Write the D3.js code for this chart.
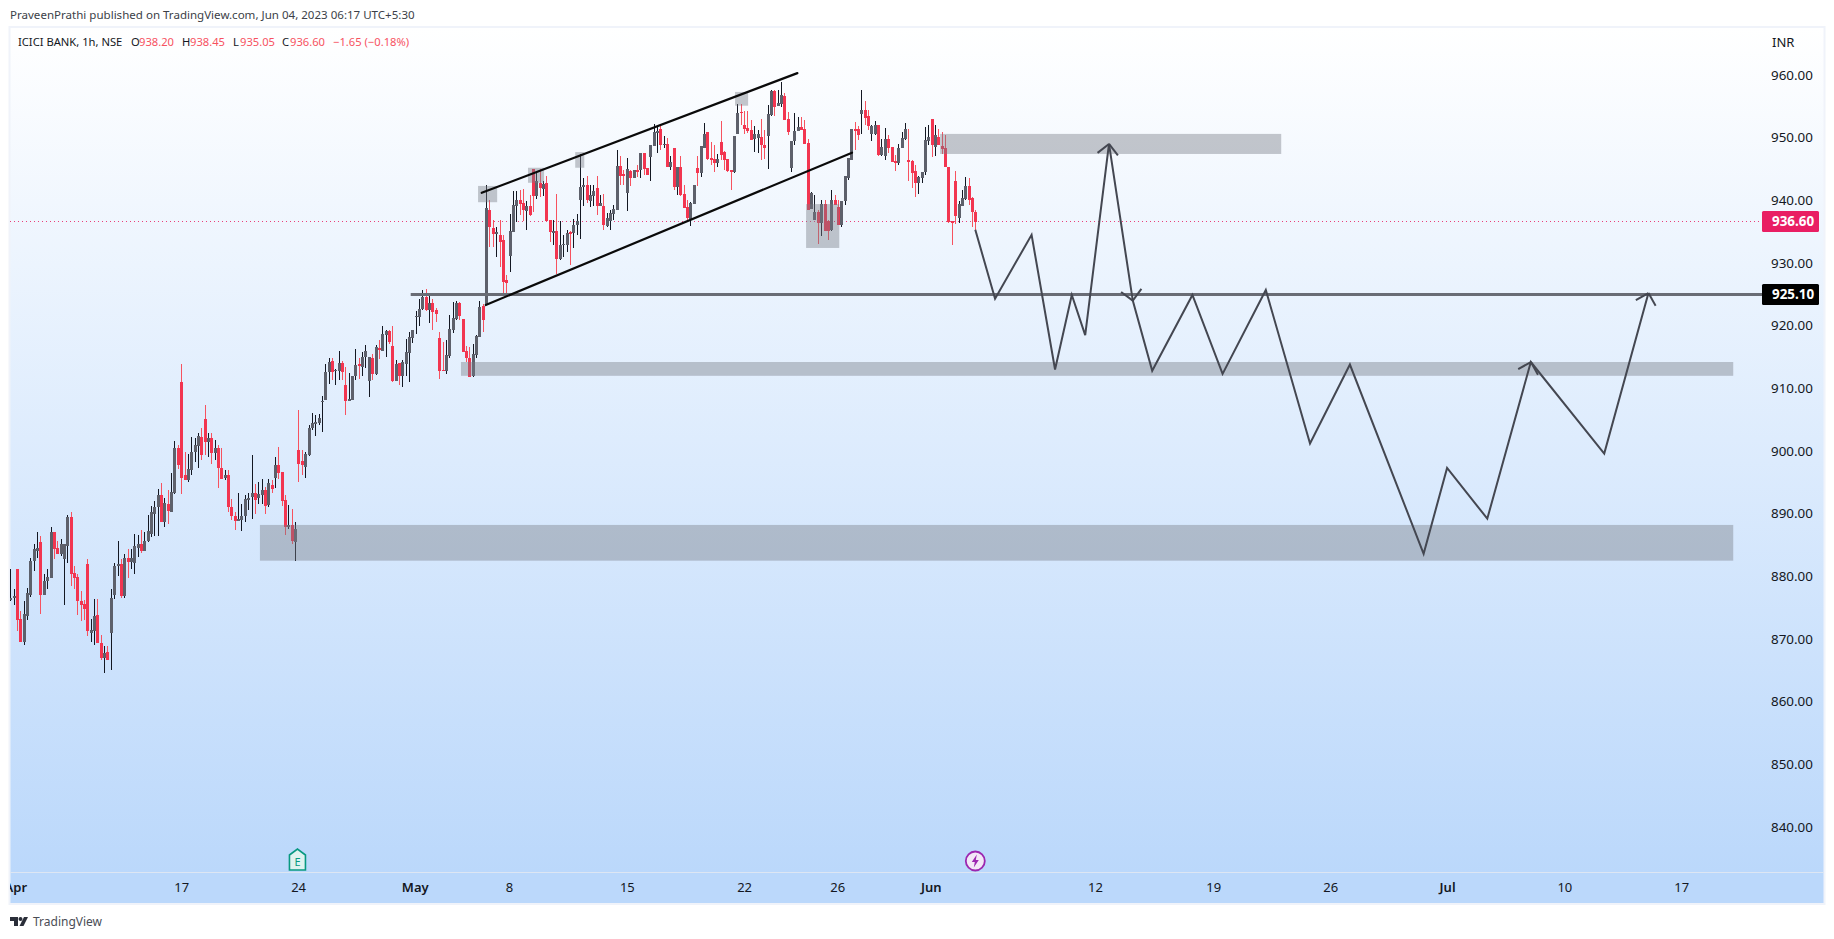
<!DOCTYPE html>
<html>
<head>
<meta charset="utf-8">
<title>ICICI BANK, 1h, NSE</title>
<script src="https://cdn.jsdelivr.net/npm/d3@7/dist/d3.min.js"></script>
<style>
html,body{margin:0;padding:0;background:#fff;overflow:hidden}
svg{display:block;font-family:"Noto Sans",sans-serif}
</style>
</head>
<body>
<svg id="chart" width="1834" height="939"></svg>
<script>
const opens=[876.3,876.5,881.1,873.2,869.5,873.6,877.1,882.4,884.1,885.4,
877.1,879.2,879.8,887.1,884.6,883.5,882.8,884.9,889.5,880.6,
879.9,876.0,875.6,882.0,871.0,871.2,873.9,869.4,867.0,868.0,
871.0,877.1,881.7,882.0,876.9,883.0,882.3,882.2,884.6,885.1,
884.1,885.7,886.8,890.0,891.0,892.9,888.6,891.6,890.3,893.3,
900.5,911.0,896.1,895.3,897.0,899.9,900.8,902.3,905.1,901.5,
902.1,899.7,900.5,897.3,895.7,896.1,891.1,889.7,888.9,889.0,
889.7,892.2,892.7,893.3,892.5,893.0,893.7,891.4,894.5,895.7,
897.8,896.7,892.2,887.9,888.2,885.5,900.2,898.4,897.5,899.4,
903.6,904.3,904.5,907.9,908.2,912.6,914.4,912.8,912.8,914.1,
910.6,908.0,908.2,911.9,913.9,913.4,915.0,911.2,914.9,912.3,
916.5,916.0,918.5,919.2,916.8,911.2,914.1,912.0,913.9,915.7,
918.1,921.5,921.4,922.7,924.6,922.5,923.6,922.5,918.1,913.0,
912.8,915.2,919.3,921.1,923.6,921.1,916.0,914.9,912.0,915.3,
918.2,923.2,923.3,938.5,935.6,934.8,934.5,933.7,927.3,931.1,
935.0,939.1,940.1,939.6,938.3,939.1,945.0,940.7,942.8,941.8,
942.8,936.9,935.0,935.1,930.7,932.8,932.9,935.0,934.8,936.1,
940.1,942.1,942.5,939.9,940.7,942.0,939.1,939.1,935.9,936.7,
937.8,938.5,945.5,944.2,941.2,944.7,943.6,944.9,944.9,947.6,
945.2,946.9,948.7,950.7,951.4,948.8,949.0,945.3,948.4,942.1,
945.3,941.0,939.0,937.0,939.4,945.2,944.4,948.4,950.9,946.8,
946.6,946.0,949.3,947.7,946.6,944.9,944.5,950.6,954.1,952.0,
951.6,951.2,949.8,950.0,950.1,948.8,950.3,953.6,957.5,955.0,
955.4,956.7,953.0,945.2,949.5,951.1,951.7,951.4,949.2,938.6,
936.9,938.2,936.4,939.4,936.7,935.3,940.1,939.0,936.1,939.9,
943.6,946.5,951.4,951.4,953.8,954.4,953.5,950.6,950.6,952.0,
947.2,947.1,949.8,948.5,946.3,946.0,948.4,949.8,946.5,946.3,
944.7,942.8,943.6,944.5,949.5,953.0,948.5,950.1,948.7,948.4,
945.3,936.7,943.1,937.2,939.1,940.2,942.3,940.4,938.2];
const highs=[881.1,878.0,881.1,874.4,876.0,878.2,882.9,885.2,887.1,886.5,
880.4,881.1,887.8,887.1,885.7,886.0,885.1,889.8,890.2,881.7,
880.4,877.7,876.3,882.8,873.2,876.4,876.4,870.7,868.9,868.9,
877.9,882.1,885.7,882.8,883.6,884.3,884.4,886.8,886.6,887.4,
887.0,889.8,891.3,892.1,894.0,894.9,892.5,893.8,896.5,901.6,
901.0,913.9,899.9,899.6,902.3,902.0,902.9,903.7,907.4,902.8,
902.9,901.8,901.0,900.5,897.0,897.0,892.4,890.3,893.3,891.6,
892.9,893.3,899.4,894.8,895.1,895.6,894.3,895.6,895.4,899.1,
900.7,896.7,892.9,891.4,890.8,888.6,906.6,900.2,899.9,904.2,
906.1,905.8,905.9,908.8,913.9,914.8,914.8,913.1,916.0,914.4,
913.4,912.5,912.0,916.3,914.9,915.8,916.9,915.0,915.5,916.9,
917.7,920.0,919.3,919.3,920.0,914.5,914.1,914.5,917.9,919.0,
919.3,922.4,924.3,925.7,925.9,924.9,924.3,922.8,919.0,917.4,
917.7,921.7,923.8,924.0,923.8,921.1,916.8,916.6,917.1,918.5,
924.0,923.5,942.5,940.1,936.9,935.8,936.9,934.5,928.1,937.8,
941.5,941.5,941.7,941.8,939.9,940.9,945.0,944.6,945.0,943.1,
943.9,936.9,936.9,941.0,936.7,934.5,935.3,935.1,937.0,937.8,
947.4,943.6,943.9,942.5,942.5,943.9,940.9,941.0,937.9,938.5,
939.3,948.0,947.1,944.9,946.8,944.9,944.9,945.7,947.6,947.6,
945.2,948.8,952.2,951.9,952.0,950.2,949.9,947.1,948.4,945.3,
947.1,942.5,940.1,939.8,942.5,947.1,948.7,952.4,950.9,949.3,
948.8,947.4,952.7,947.9,946.6,944.9,950.3,955.4,955.4,954.3,
954.3,952.8,951.9,951.2,953.0,951.2,955.2,957.6,957.6,957.6,
958.9,957.1,954.1,949.5,953.9,953.3,953.3,952.8,949.8,941.3,
940.9,938.5,940.1,940.1,936.9,941.7,940.9,940.1,939.9,943.9,
946.8,951.4,952.5,951.9,957.6,955.9,954.4,952.0,952.7,952.0,
949.8,951.6,950.4,948.5,947.2,949.0,950.9,952.4,951.4,946.5,
945.7,943.9,944.5,951.7,952.0,953.0,952.0,951.4,950.9,950.4,
945.3,936.7,944.7,939.9,941.7,943.7,943.6,940.6,938.45];
const lows=[876.0,875.5,871.3,869.5,869.0,873.1,876.7,880.8,882.9,874.0,
877.1,877.9,879.8,882.7,883.5,883.3,875.5,882.2,878.4,878.0,
873.9,872.8,873.1,870.5,869.6,869.1,869.3,866.7,864.5,866.6,
865.0,876.4,880.1,876.6,876.6,879.8,881.1,880.3,883.1,883.8,
884.1,885.5,886.3,886.5,886.5,888.6,887.9,888.4,890.2,893.2,
897.2,893.2,895.4,895.1,896.2,898.3,897.3,898.6,899.4,899.1,
898.0,898.6,894.1,895.6,895.4,890.3,889.0,887.4,888.9,887.3,
888.6,890.6,889.2,890.0,891.6,891.6,890.0,891.1,893.3,894.1,
895.6,891.3,886.6,887.6,885.1,882.5,895.1,896.2,895.7,899.2,
903.4,902.4,904.2,903.1,908.1,910.7,911.3,910.6,911.4,911.4,
905.8,908.0,908.2,911.4,911.5,912.0,913.2,908.6,911.4,912.2,
914.7,916.0,915.0,917.1,911.0,911.2,910.6,910.2,912.0,911.0,
917.3,918.7,920.0,922.5,922.4,920.4,919.3,920.6,911.5,912.8,
912.3,914.9,918.9,920.9,920.9,915.8,914.2,911.8,911.8,914.9,
918.2,919.0,923.3,932.6,932.6,931.0,929.4,925.2,925.2,928.5,
935.0,936.6,937.7,936.7,935.3,937.5,938.2,940.2,940.6,940.7,
936.7,933.4,932.9,928.3,930.5,931.0,931.8,929.7,932.4,934.5,
933.9,939.1,939.6,939.0,939.1,937.7,939.1,935.3,935.8,935.3,
936.9,938.5,942.5,942.5,938.3,942.3,943.5,943.7,943.6,944.1,
944.1,943.1,948.7,947.5,948.0,948.3,945.3,944.9,941.7,940.9,
940.7,938.8,936.9,935.9,939.4,942.3,943.7,948.4,946.5,945.7,
944.5,945.3,946.5,944.9,944.5,941.7,944.4,950.6,952.0,950.6,
950.7,949.6,947.7,947.5,946.5,946.6,945.0,953.4,953.5,955.0,
954.9,952.8,950.4,944.5,948.8,951.0,951.2,949.0,938.5,938.6,
936.9,933.1,934.3,935.1,933.7,935.1,939.3,936.1,935.7,939.3,
943.3,946.5,948.0,949.6,950.6,952.0,951.2,949.4,950.4,947.1,
947.1,946.5,947.5,946.1,944.7,945.7,948.3,949.6,943.1,942.0,
940.6,941.0,942.8,944.1,948.8,946.9,947.1,948.8,947.4,945.3,
936.4,932.9,936.2,936.4,939.1,940.1,939.3,935.8,935.05];
const closes=[876.5,876.9,873.1,869.5,874.0,877.4,882.5,884.3,884.6,877.1,
879.2,879.9,887.0,884.4,883.5,885.1,885.1,889.5,880.4,879.8,
876.0,875.5,874.8,871.2,871.5,873.7,869.4,867.0,867.7,866.7,
876.6,881.7,882.0,876.8,883.0,882.3,883.0,884.9,885.1,884.1,
885.7,887.3,890.2,891.0,893.0,888.6,891.7,890.5,893.5,900.5,
897.8,895.7,895.4,897.2,899.9,901.0,902.4,899.4,901.5,902.1,
899.7,900.5,897.3,895.6,896.1,891.0,889.7,888.9,889.2,889.7,
892.4,892.5,893.3,892.2,893.2,893.7,891.3,894.9,894.0,897.8,
896.5,892.1,887.8,888.2,885.7,887.6,898.0,897.7,899.6,903.7,
904.5,904.7,905.3,908.0,912.6,914.2,912.6,913.0,914.1,912.6,
908.0,908.3,912.0,913.7,913.6,915.0,916.0,915.0,912.3,916.6,
916.1,918.7,919.2,917.4,911.2,913.9,912.0,914.2,915.8,918.2,
919.3,921.6,922.7,924.6,922.5,923.6,922.2,921.9,912.8,912.8,
915.3,919.5,921.2,923.6,921.6,915.8,914.9,911.8,915.5,918.4,
923.0,920.9,938.8,935.8,934.6,934.9,933.3,927.0,926.8,935.1,
939.3,940.1,939.4,938.5,939.1,937.7,940.7,943.1,942.0,942.6,
936.7,935.0,935.1,930.7,932.9,933.1,934.8,934.6,936.1,936.7,
942.1,942.5,940.1,940.9,941.5,939.1,939.6,936.1,937.2,938.0,
938.6,945.5,943.9,943.9,945.0,943.6,944.9,944.6,947.6,945.0,
944.1,948.8,950.9,951.1,948.8,949.0,945.3,946.1,942.1,945.3,
940.9,938.8,937.2,939.6,942.5,944.4,948.7,950.6,946.6,946.5,
946.0,946.6,947.2,946.5,944.7,944.5,950.3,953.9,953.9,951.4,
951.1,949.6,950.6,950.6,948.8,948.4,953.8,957.5,954.9,955.5,
956.8,952.8,950.9,949.5,951.1,951.7,951.2,949.0,938.5,941.2,
938.2,936.4,939.4,935.1,935.1,940.1,939.3,936.1,939.9,943.9,
946.8,951.4,951.1,950.4,954.4,953.1,951.9,951.9,952.0,947.2,
948.5,949.8,948.4,946.1,946.0,948.4,950.0,951.4,946.1,944.4,
942.8,943.7,944.5,949.6,950.1,948.8,950.4,948.8,948.2,945.3,
936.6,936.4,937.5,939.4,940.4,942.3,940.1,938.2,936.6];

const priceTicks=[840,850,860,870,880,890,900,910,920,930,940,950,960];
const timeTickBars=[1.5,51,85.9,120.7,148.8,184,219,246.8,274.7,323.7,359,393.9,428.8,463.8,498.7];
const timeTickLabels=["Apr","17","24","May","8","15","22","26","Jun","12","19","26","Jul","10","17"];
const boldLabels=["Apr","May","Jun","Jul"];

const zoneLeft =[74.5,134.5,277.5,237.5,139.6,154.5,168.6,216.3];
const zoneRight=[514.2,514.2,379.3,247.4,145.3,159.3,171.3,220.2];
const zoneTop  =[888.2,914.2,950.6,939.4,942.3,945.2,947.7,957.3];
const zoneBottom=[882.5,912.0,947.4,932.4,939.7,942.8,945.2,955.1];

const channelBars=[[140.7,234.9],[141.9,251.2]];
const channelPrices=[[941.2,960.3],[923.3,947.6]];

const forecastBars=[288.0,293.9,304.8,311.8,316.8,320.8,327.9,335.0,340.8,352.8,361.8,374.7,387.9,399.8,421.8,428.8,440.8,453.8,475.7,488.9];
const forecastPrices=[935.3,924.3,934.5,913.0,924.9,918.5,949.0,924.0,912.8,924.9,912.3,925.7,901.2,913.8,883.6,897.3,889.2,914.2,899.6,925.2];
const forecastArrowTips=[6,7,17,19];

const levelPrice=925.10, levelStartBar=119.5, levelEndBar=522.9;
const lastPrice=936.60;
const earningsBar=85.7, dividendBar=288.0;

const legendTitle="ICICI BANK, 1h, NSE";
const headerText="PraveenPrathi published on TradingView.com, Jun 04, 2023 06:17 UTC+5:30";

const W=1834,H=939;
const pane={l:10,r:1824,t:28,b:872,axisB:904,scaleL:1762};
const svg=d3.select("#chart");
const defs=svg.append("defs");
const grad=defs.append("linearGradient").attr("id","bg").attr("x1",0).attr("x2",0).attr("y1",0).attr("y2",1);
grad.append("stop").attr("offset","0%").attr("stop-color","#ffffff");
grad.append("stop").attr("offset","100%").attr("stop-color","#bbd8fb");
defs.append("clipPath").attr("id","clip").append("rect").attr("x",pane.l).attr("y",pane.t).attr("width",pane.r-pane.l).attr("height",pane.axisB-pane.t);

const x=d3.scaleLinear().domain([0,opens.length-1]).range([10.3,975.3]);
const y=d3.scaleLinear().domain([840,960]).range([827,75]);
const snapY=p=>Math.round(y(p)-.2)+.5;

// background
svg.append("rect").attr("x",pane.l).attr("y",pane.t).attr("width",pane.r-pane.l).attr("height",pane.b-pane.t).attr("fill","url(#bg)");
svg.append("rect").attr("x",pane.l).attr("y",pane.b).attr("width",pane.r-pane.l).attr("height",pane.axisB-pane.b).attr("fill","#bbd8fb");
svg.append("rect").attr("x",9.5).attr("y",27).attr("width",1815).attr("height",877).attr("fill","none").attr("stroke","#f0f3fa").attr("stroke-width",2);
svg.append("line").attr("x1",pane.l).attr("x2",pane.r).attr("y1",pane.b+.5).attr("y2",pane.b+.5).attr("stroke","#dde6f3");

// last price dotted line
svg.append("line").attr("x1",pane.l).attr("x2",pane.scaleL).attr("y1",snapY(lastPrice)).attr("y2",snapY(lastPrice))
  .attr("stroke","#e91e63").attr("stroke-opacity",.85).attr("stroke-dasharray","1 3");

// candles
const plot=svg.append("g").attr("clip-path","url(#clip)");
const idx=d3.range(opens.length);
const isUp=i=>closes[i]>=opens[i];
const cg=plot.append("g").attr("shape-rendering","crispEdges");
cg.selectAll("rect.wick").data(idx).join("rect").attr("class","wick")
  .attr("x",i=>Math.round(x(i))).attr("width",1)
  .attr("y",i=>y(highs[i])).attr("height",i=>y(lows[i])-y(highs[i]))
  .attr("fill",i=>isUp(i)?"#131722":"#f7525f");
cg.selectAll("rect.body").data(idx).join("rect").attr("class","body")
  .attr("x",i=>Math.round(x(i))-1).attr("width",3)
  .attr("y",i=>y(Math.max(opens[i],closes[i])))
  .attr("height",i=>Math.max(1.5,Math.abs(y(opens[i])-y(closes[i]))))
  .attr("fill",i=>isUp(i)?"#5d606b":"#f23550");

// zones
plot.selectAll("rect.zone").data(zoneLeft).join("rect").attr("class","zone")
  .attr("x",(d,i)=>x(d)).attr("width",(d,i)=>x(zoneRight[i])-x(d))
  .attr("y",(d,i)=>y(zoneTop[i])).attr("height",(d,i)=>y(zoneBottom[i])-y(zoneTop[i]))
  .attr("fill","rgba(120,123,134,.42)");

// horizontal level
plot.append("line").attr("x1",x(levelStartBar)).attr("x2",x(levelEndBar)).attr("y1",snapY(levelPrice)).attr("y2",snapY(levelPrice))
  .attr("stroke","#696c75").attr("stroke-width",3);

// channel
channelBars.forEach((b,k)=>{
  plot.append("line").attr("x1",x(b[0])).attr("x2",x(b[1])).attr("y1",y(channelPrices[k][0])).attr("y2",y(channelPrices[k][1]))
    .attr("stroke","#0a0a0a").attr("stroke-width",2.2).attr("stroke-linecap","round");
});

// forecast path
const fPts=forecastBars.map((b,i)=>[x(b),y(forecastPrices[i])]);
plot.append("path").attr("d",d3.line()(fPts)).attr("fill","none").attr("stroke","#444751").attr("stroke-width",2).attr("stroke-linejoin","miter");
const barbLen=14.5, ang=Math.PI/4;
forecastArrowTips.forEach(t=>{
  const [tx,ty]=fPts[t],[px,py]=fPts[t-1];
  const a=Math.atan2(py-ty,px-tx);
  [a-ang,a+ang].forEach(b=>{
    plot.append("line").attr("x1",tx).attr("y1",ty).attr("x2",tx+barbLen*Math.cos(b)).attr("y2",ty+barbLen*Math.sin(b))
      .attr("stroke","#444751").attr("stroke-width",2);
  });
});

// price axis
const yAxis=d3.axisRight(y).tickValues(priceTicks).tickSize(0).tickFormat(d3.format(".2f"));
const yg=svg.append("g").attr("transform",`translate(1771,0)`).call(yAxis);
yg.select(".domain").remove();
yg.selectAll("text").attr("x",0).attr("font-size",13.4).attr("font-family",'"Noto Sans",sans-serif').attr("fill","#131722").style("text-anchor","start");

svg.append("text").text("INR").attr("x",1772).attr("y",46.5).attr("font-size",13).attr("fill","#131722");

// price labels
[[lastPrice,"#e91e63"],[levelPrice,"#000000"]].forEach(([p,c])=>{
  const cy=snapY(p);
  svg.append("rect").attr("x",pane.scaleL).attr("y",cy-10.5).attr("width",57).attr("height",21).attr("rx",1.5).attr("fill",c);
  svg.append("text").text(p.toFixed(2)).attr("x",1772).attr("y",cy).attr("dy",".36em").attr("font-size",13.4).attr("font-weight",700).attr("fill","#fff");
});

// time axis
const xAxis=d3.axisBottom(x).tickValues(timeTickBars).tickSize(0).tickFormat((d,i)=>timeTickLabels[i]);
const xClip=svg.append("g").attr("clip-path","url(#clip)");
const xg=xClip.append("g").attr("transform",`translate(0,${pane.b})`).call(xAxis);
xg.select(".domain").remove();
xg.selectAll("text").attr("y",0).attr("dy",19.5).attr("font-size",13).attr("font-family",'"Noto Sans",sans-serif').attr("fill","#131722")
  .attr("font-weight",(d,i)=>boldLabels.includes(timeTickLabels[i])?600:400);

// event icons
const eG=svg.append("g").attr("transform",`translate(${x(earningsBar)},860)`);
eG.append("path").attr("d","M-8,-5 L0,-11 L8,-5 L8,10 L-8,10 Z").attr("fill","#dff3f0").attr("stroke","#089981").attr("stroke-width",1.6);
eG.append("text").text("E").attr("text-anchor","middle").attr("y",6).attr("font-size",11).attr("fill","#089981");
const dG=svg.append("g").attr("transform",`translate(${x(dividendBar)},861)`);
dG.append("circle").attr("r",9.5).attr("fill","#f3e7f7").attr("stroke","#9c27b0").attr("stroke-width",1.8);
dG.append("path").attr("d","M1.5,-6.5 L-3.5,1 L-0.5,1 L-1.5,6.5 L3.5,-1 L0.5,-1 Z").attr("fill","#9c27b0");

// header + legend
svg.append("text").text(headerText).attr("x",10).attr("y",19).attr("font-size",11.55).attr("fill","#3c3f48");
const legendY=46;
const legendParts=[[18,legendTitle,"#131722"],[131,"O","#131722"],[139,"938.20","#f7525f"],[182,"H","#131722"],[190,"938.45","#f7525f"],
  [233,"L","#131722"],[240,"935.05","#f7525f"],[282,"C","#131722"],[290,"936.60","#f7525f"],[333,"−1.65 (−0.18%)","#f7525f"]];
svg.selectAll("text.legend").data(legendParts).join("text").attr("class","legend")
  .attr("x",d=>d[0]).attr("y",legendY).attr("font-size",11.2).attr("fill",d=>d[2]).text(d=>d[1]);

// footer logo
const lg=svg.append("g").attr("transform","translate(10,917)").attr("fill","#2a2e39");
lg.append("path").attr("d","M0,0 H8 V9 H4 V4 H0 Z");
lg.append("circle").attr("cx",10.5).attr("cy",2).attr("r",2);
lg.append("path").attr("d","M14,0 H18 L13.5,9 H9.5 Z");
svg.append("text").text("TradingView").attr("x",33).attr("y",926).attr("font-size",12).attr("fill","#4a4d55");
</script>
</body>
</html>
